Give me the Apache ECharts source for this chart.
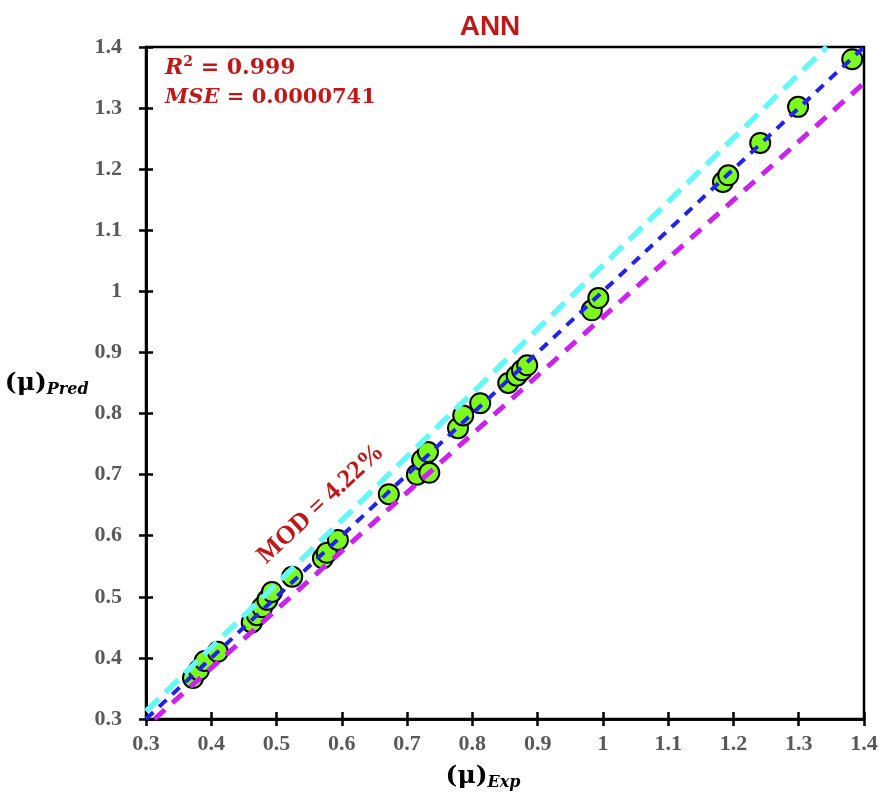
<!DOCTYPE html>
<html>
<head>
<meta charset="utf-8">
<script src="https://cdn.jsdelivr.net/npm/echarts@6/dist/echarts.min.js"></script>
<style>html,body{margin:0;padding:0;background:#fff;}#c{width:882px;height:795px;}</style>
</head>
<body>
<div id="c"></div>
<script>
// Experimental vs predicted viscosity
const expValues = [0.372,0.381,0.390,0.410,0.462,0.470,0.478,0.486,0.493,0.524,0.571,0.577,0.594,0.672,0.715,0.723,0.732,0.734,0.778,0.786,0.812,0.855,0.868,0.876,0.884,0.983,0.993,1.184,1.192,1.241,1.299,1.382];
const predValues = [0.367,0.380,0.395,0.410,0.458,0.470,0.483,0.495,0.508,0.533,0.563,0.572,0.593,0.668,0.700,0.724,0.737,0.703,0.776,0.797,0.817,0.850,0.862,0.871,0.879,0.969,0.989,1.179,1.190,1.243,1.302,1.380];
// reference lines (endpoints)
const idealLine = [[0.3,0.3],[1.4,1.4]];
const upperLine = [[0.3,0.3127],[1.343,1.4]];
const lowerLine = [[0.313,0.3],[1.4,1.341]];
const axisMin = 0.3, axisMax = 1.4, axisStep = 0.1;
const modLabelPos = [0.568, 0.652];

const chart = echarts.init(document.getElementById('c'));
const points = expValues.map((v,i)=>[v,predValues[i]]);
const labelStyle = {color:'#595959', fontFamily:'Liberation Serif', fontWeight:'bold', fontSize:22};
const red = '#c01818';
function axisCommon(extra){
  return Object.assign({
    type:'value', min:axisMin, max:axisMax, interval:axisStep,
    splitLine:{show:false},
    axisLine:{show:true, onZero:false, lineStyle:{color:'#000', width:2.5}},
  }, extra);
}
const nameRich = {
  m:{fontFamily:'DejaVu Serif', fontWeight:'bold', fontSize:25, color:'#000'},
  s:{fontFamily:'DejaVu Serif', fontStyle:'italic', fontWeight:'bold', fontSize:16, color:'#000', padding:[14,0,0,0]}
};
chart.setOption({
  animation:false,
  backgroundColor:'#fff',
  title:{text:'ANN', left:485, textAlign:'center', top:8, textStyle:{color:red, fontFamily:'Liberation Sans', fontWeight:'bold', fontSize:28}},
  grid:{left:146, right:18, top:47, bottom:76, show:true, borderColor:'#000', borderWidth:2.5, containLabel:false, outerBoundsMode:'none'},
  xAxis:[
    axisCommon({position:'bottom',
      axisTick:{show:true, inside:false, length:7, lineStyle:{color:'#000', width:2.5}},
      axisLabel:Object.assign({margin:14, formatter:v=>String(+v.toFixed(1))}, labelStyle),
      name:'{m|(μ)}{s|Exp}', nameLocation:'middle', nameGap:42,
      nameTextStyle:{padding:[0,44,0,0], rich:nameRich}
    }),
    axisCommon({position:'bottom', axisLabel:{show:false},
      axisTick:{show:true, inside:true, length:7, lineStyle:{color:'#000', width:2.5}}})
  ],
  yAxis:[
    axisCommon({position:'left',
      axisTick:{show:true, inside:false, length:7, lineStyle:{color:'#000', width:2.5}},
      axisLabel:Object.assign({margin:24, formatter:v=>String(+v.toFixed(1))}, labelStyle),
      name:'{m|(μ)}{s|Pred}', nameLocation:'middle', nameRotate:0, nameGap:72,
      nameTextStyle:{align:'center', rich:nameRich}
    }),
    axisCommon({position:'left', axisLabel:{show:false},
      axisTick:{show:true, inside:true, length:7, lineStyle:{color:'#000', width:2.5}}})
  ],
  series:[
    {type:'scatter', data:points, symbol:'circle', symbolSize:20, z:2,
      itemStyle:{color:'#7cfc1c', borderColor:'#000', borderWidth:2, opacity:1}},
    {type:'line', data:upperLine, symbol:'none', z:3, lineStyle:{color:'#66f8f8', width:5.5, type:[18,9]}},
    {type:'line', data:lowerLine, symbol:'none', z:3, lineStyle:{color:'#cc22ee', width:5, type:[14,10]}},
    {type:'line', data:idealLine, symbol:'none', z:4, lineStyle:{color:'#2222ee', width:4, type:[10,8]}}
  ]
});
const p = chart.convertToPixel({gridIndex:0}, modLabelPos);
chart.setOption({
  graphic:[
    {type:'text', left:165, top:55, style:{text:'{i|R}{sup|2}{n| = 0.999}', rich:{
      i:{fontFamily:'DejaVu Serif', fontStyle:'italic', fontWeight:'bold', fontSize:22, fill:red},
      sup:{fontFamily:'DejaVu Serif', fontWeight:'bold', fontSize:14, fill:red, padding:[0,0,12,0]},
      n:{fontFamily:'DejaVu Serif', fontWeight:'bold', fontSize:22, fill:red}}}},
    {type:'text', left:165, top:87, style:{text:'{i|MSE}{n| = 0.0000741}', rich:{
      i:{fontFamily:'DejaVu Serif', fontStyle:'italic', fontWeight:'bold', fontSize:21, fill:red},
      n:{fontFamily:'DejaVu Serif', fontWeight:'bold', fontSize:21, fill:red}}}},
    {type:'text', x:p[0], y:p[1], rotation:43*Math.PI/180,
      style:{text:'MOD = 4.22%', fontFamily:'Liberation Serif', fontWeight:'bold', fontSize:26, fill:red, align:'center', verticalAlign:'middle'}}
  ]
});
</script>
</body>
</html>
